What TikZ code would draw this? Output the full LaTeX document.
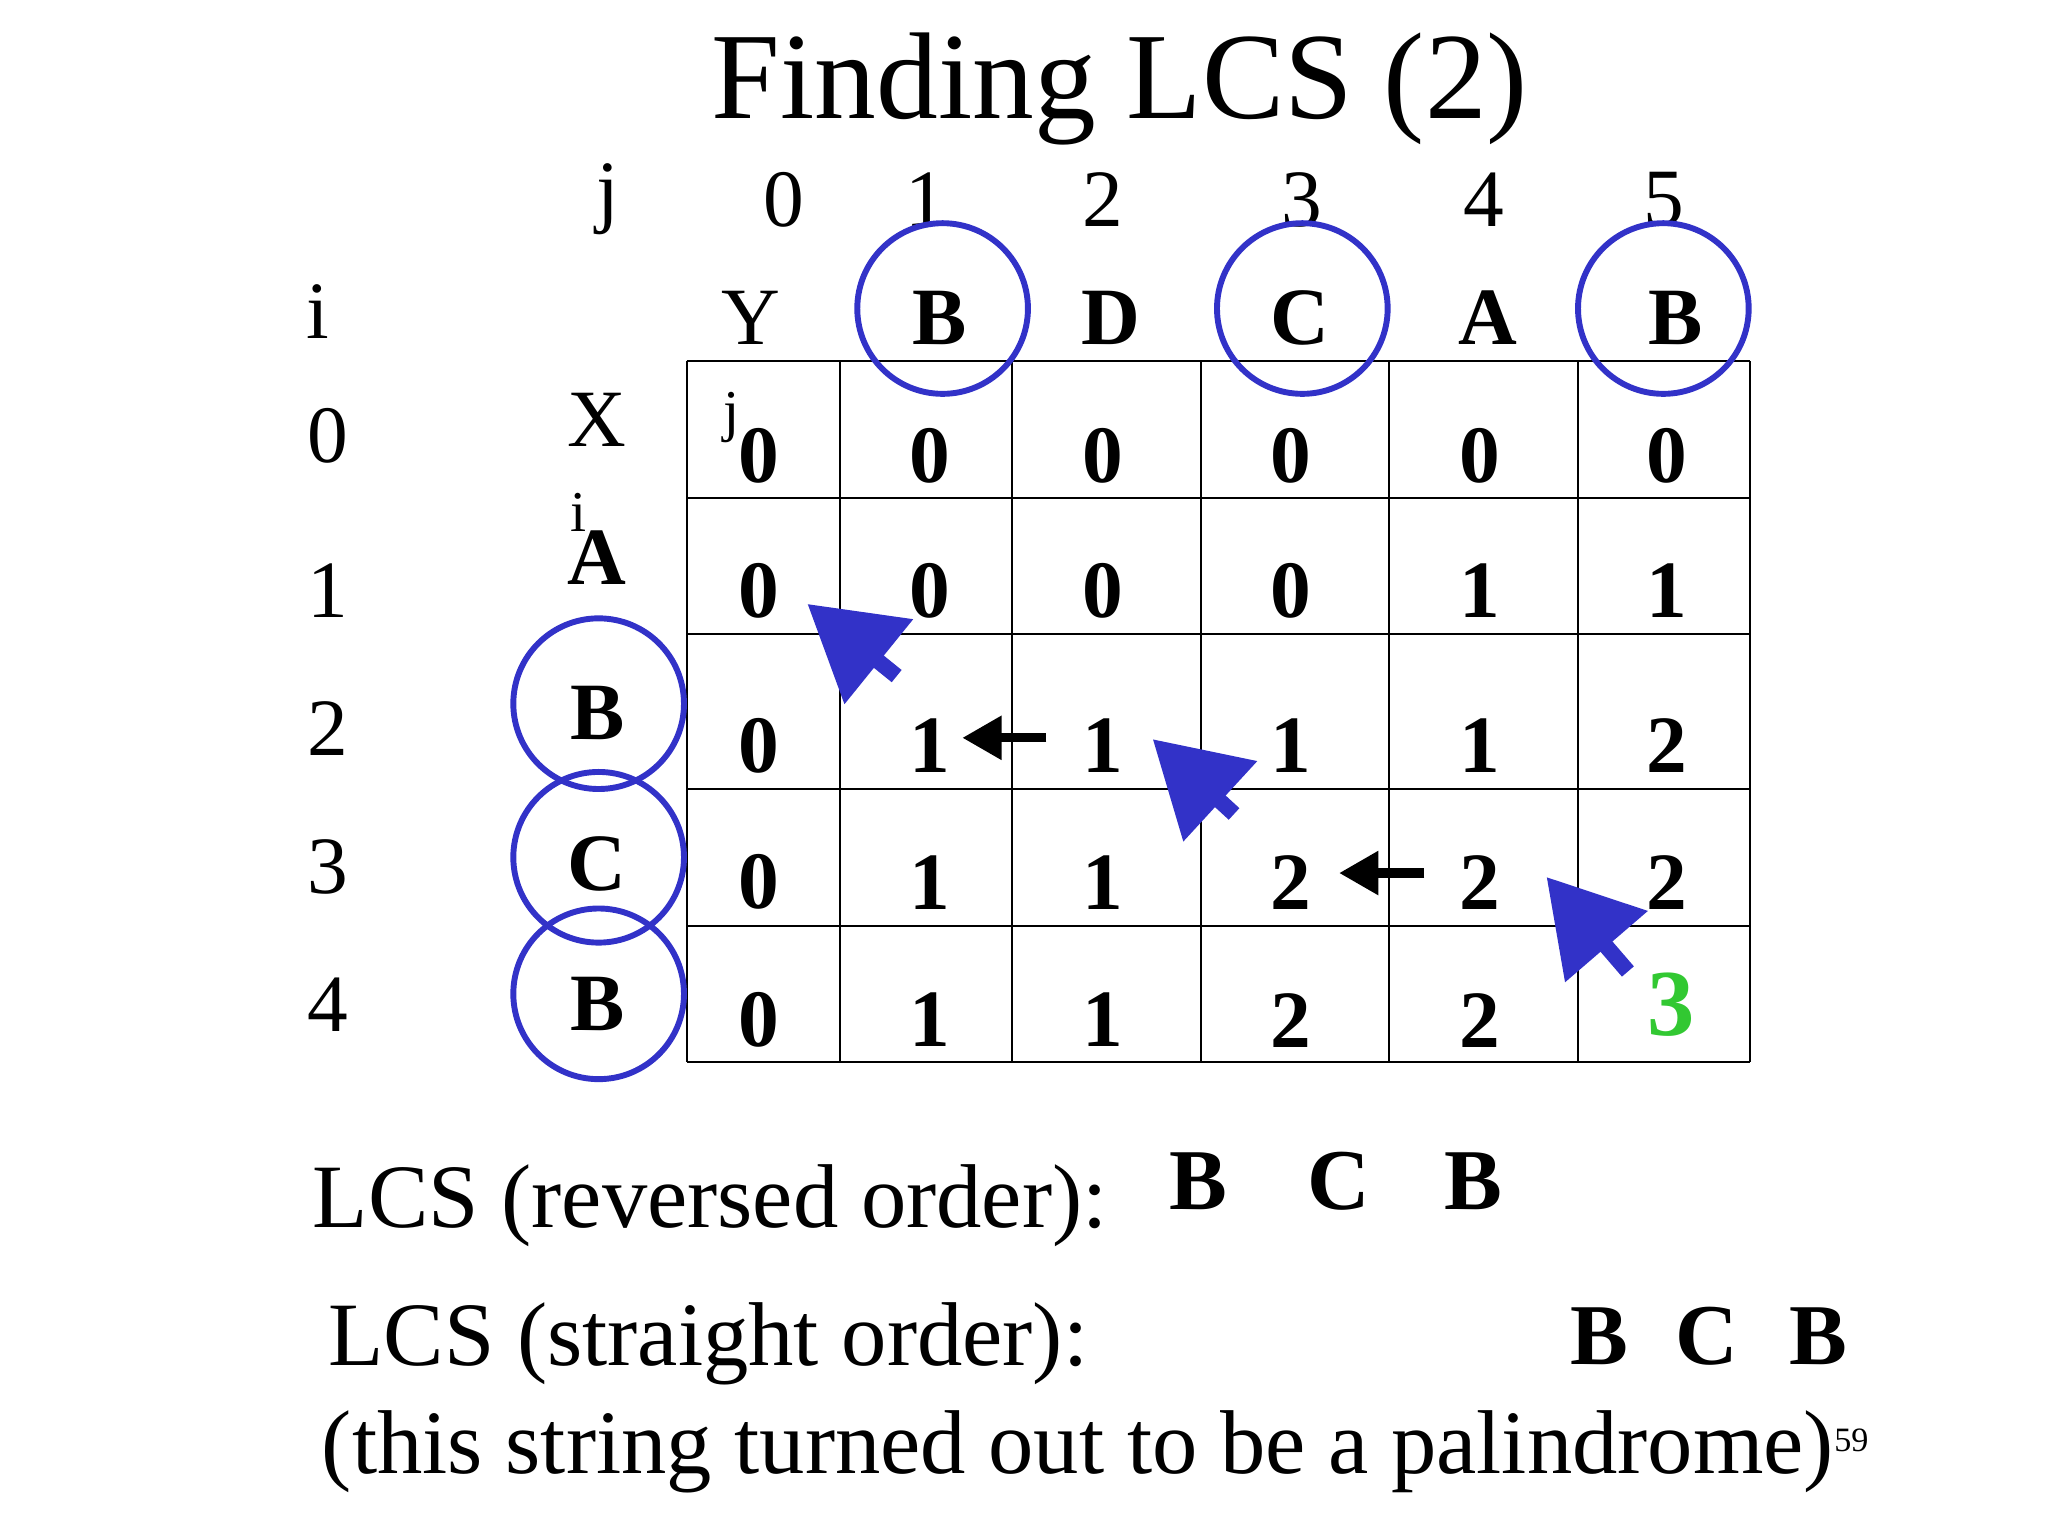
\documentclass[tikz,border=0pt]{standalone}
\usepackage{fontspec}
\setmainfont{Liberation Serif}
\usetikzlibrary{arrows.meta}
\definecolor{cblue}{RGB}{50,50,200}
\definecolor{cgreen}{RGB}{50,200,50}
\tikzset{
 lab/.style={font=\fontsize{62}{62}\selectfont, inner sep=0},
 dig/.style={font=\fontsize{62}{62}\selectfont\bfseries, inner sep=0},
 big/.style={font=\fontsize{69}{69}\selectfont, inner sep=0, anchor=base west},
 ring/.style={draw=cblue, line width=4.5pt, circle, minimum size=130pt, inner sep=0},
 barrow/.style={cblue, line width=12pt, -{Triangle[length=70pt,width=80pt]}},
 karrow/.style={black, line width=7pt, -{Triangle[length=30pt,width=32pt]}},
 grid/.style={line width=1.5pt}
}
\begin{document}
\begin{tikzpicture}[x=1pt,y=-1pt]
\useasboundingbox (0,0) rectangle (1560,1170);
\node[font=\fontsize{94}{94}\selectfont,inner sep=0] (title) at (853,68) {Finding LCS (2)};
% grid
\foreach \x in {523,640,771,915,1058,1202,1333} \draw[grid] (\x,275) -- (\x,809);
\foreach \y in {275,379,483,601,705,809} \draw[grid] (523,\y) -- (1333,\y);
% headers
\node[lab] (hj) at (463,152) {j};
\foreach \t/\x [count=\k from 0] in {0/597,1/705,2/840,3/992,4/1130,5/1267} \node[lab] (hc\k) at (\x,152) {\t};
\node[lab] (hi) at (242,237) {i};
\node[lab] (hY) at (572,242) {Y};
\foreach \t/\x [count=\k] in {B/716,D/846,C/990,A/1133,B/1276} \node[dig] (y\k) at (\x,242) {\t};
\foreach \t/\y [count=\k from 0] in {0/332,1/450,2/555,3/660,4/765} \node[lab] (r\k) at (250,\y) {\t};
\node[lab] (hX) at (455,320) {X};
\foreach \t/\y [count=\k] in {A/425,B/543,C/658,B/765} \node[dig] (x\k) at (455,\y) {\t};
\node[font=\fontsize{44}{44}\selectfont,inner sep=0] (sj) at (557,318) {j};
\node[font=\fontsize{44}{44}\selectfont,inner sep=0] (si) at (441,390) {i};
% values
\foreach \v/\x [count=\c] in {0/578,0/708,0/840,0/983,0/1127,0/1270} \node[dig] (a\c) at (\x,347) {\v};
\foreach \v/\x [count=\c] in {0/578,0/708,0/840,0/983,1/1127,1/1270} \node[dig] (b\c) at (\x,450) {\v};
\foreach \v/\x [count=\c] in {0/578,1/708,1/840,1/983,1/1127,2/1270} \node[dig] (c\c) at (\x,568) {\v};
\foreach \v/\x [count=\c] in {0/578,1/708,1/840,2/983,2/1127,2/1270} \node[dig] (d\c) at (\x,672) {\v};
\foreach \v/\x [count=\c] in {0/578,1/708,1/840,2/983,2/1127} \node[dig] (e\c) at (\x,777) {\v};
\node[dig,text=cgreen,font=\fontsize{72}{72}\selectfont\bfseries] (e6) at (1273,765) {3};
% circles
\node[ring] (cy1) at (718,235) {};
\node[ring] (cy3) at (992,235) {};
\node[ring] (cy5) at (1267,235) {};
\node[ring] (cx2) at (456,536) {};
\node[ring] (cx3) at (456,653) {};
\node[ring] (cx4) at (456,757) {};
% arrows
\coordinate (t1) at (683,515); \coordinate (h1) at (615,460);
\coordinate (t2) at (940,620); \coordinate (h2) at (878,563);
\coordinate (t3) at (1240,740); \coordinate (h3) at (1178,668);
\draw[barrow] (t1) -- (h1);
\draw[barrow] (t2) -- (h2);
\draw[barrow] (t3) -- (h3);
\coordinate (k1a) at (797,562); \coordinate (k1b) at (733,562);
\coordinate (k2a) at (1085,665); \coordinate (k2b) at (1020,665);
\draw[karrow] (k1a) -- (k1b);
\draw[karrow] (k2a) -- (k2b);
% bottom
\node[big] (l1) at (238,935) {LCS (reversed order):};
\node[dig,font=\fontsize{66}{66}\selectfont\bfseries] (l1b) at (913,900) {B};
\node[dig,font=\fontsize{66}{66}\selectfont\bfseries] (l1c) at (1020,900) {C};
\node[dig,font=\fontsize{66}{66}\selectfont\bfseries] (l1d) at (1122,900) {B};
\node[big] (l2) at (250,1040) {LCS (straight order):};
\node[dig,font=\fontsize{66}{66}\selectfont\bfseries] (l2b) at (1218,1018) {B};
\node[dig,font=\fontsize{66}{66}\selectfont\bfseries] (l2c) at (1300,1018) {C};
\node[dig,font=\fontsize{66}{66}\selectfont\bfseries] (l2d) at (1385,1018) {B};
\node[big] (l3) at (245,1122) {(this string turned out to be a palindrome)};
\node[font=\fontsize{26}{26}\selectfont,inner sep=0,anchor=west] (pg) at (l3.east |- 0,1097) {59};
\end{tikzpicture}
\end{document}
